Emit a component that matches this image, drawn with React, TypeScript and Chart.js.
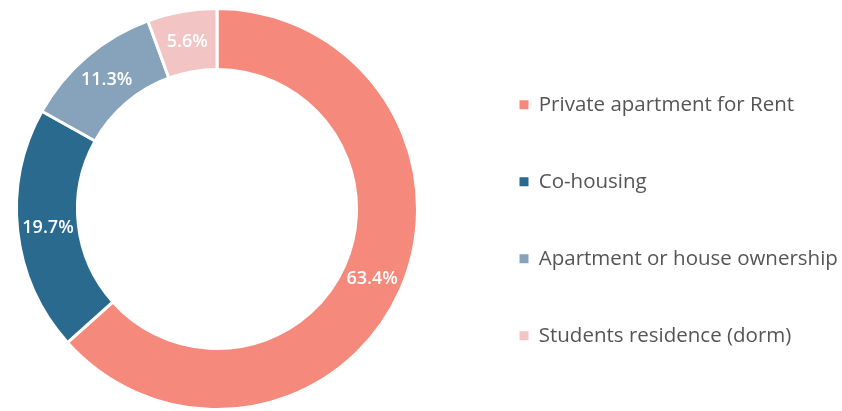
import React, { useEffect, useRef } from 'react';
import { Chart, registerables } from 'chart.js';

Chart.register(...registerables);

const categories = [
  'Private apartment for Rent',
  'Co-housing',
  'Apartment or house ownership',
  'Students residence (dorm)',
];
const shares = [63.4, 19.7, 11.3, 5.6];
const sliceColors = ['#F4897C', '#2B6A8F', '#86A3BB', '#F2C4C3'];

const FONT = '"Open Sans", "Noto Sans", sans-serif';

const valueLabels = {
  id: 'valueLabels',
  afterDatasetsDraw(chart: any) {
    const { ctx } = chart;
    const meta = chart.getDatasetMeta(0);
    const values = chart.data.datasets[0].data as number[];
    ctx.save();
    ctx.fillStyle = '#ffffff';
    ctx.font = `600 18px ${FONT}`;
    ctx.textAlign = 'center';
    ctx.textBaseline = 'middle';
    meta.data.forEach((arc: any, i: number) => {
      const p = arc.tooltipPosition(false);
      ctx.fillText(values[i].toFixed(1) + '%', p.x, p.y);
    });
    ctx.restore();
  },
};

const legendPlacer = {
  id: 'legendPlacer',
  beforeInit(chart: any) {
    const legend = chart.legend;
    if (!legend) return;
    const orig = legend.fit.bind(legend);
    legend.fit = function () {
      orig();
      this.width = 408;
    };
  },
  afterLayout(chart: any) {
    const l = chart.legend;
    if (!l) return;
    l.left = 463;
    l.right = 842;
    l.top = 38;
    l.bottom = 411;
  },
};

export default function App() {
  const ref = useRef<HTMLCanvasElement | null>(null);

  useEffect(() => {
    if (!ref.current) return;
    const chart = new Chart(ref.current, {
      type: 'doughnut',
      data: {
        labels: categories,
        datasets: [
          {
            data: shares,
            backgroundColor: sliceColors,
            borderColor: '#ffffff',
            borderWidth: 3,
            hoverBorderWidth: 3,
            hoverOffset: 0,
            offset: 0,
          },
        ],
      },
      options: {
        animation: false,
        responsive: true,
        maintainAspectRatio: false,
        cutout: '69.6%',
        events: [],
        layout: { padding: { top: 7, bottom: 0, left: 0, right: 0 } },
        plugins: {
          tooltip: { enabled: false },
          legend: {
            display: true,
            position: 'right',
            align: 'start',
            labels: {
              boxWidth: 9,
              boxHeight: 9,
              padding: 56.5,
              color: '#555555',
              font: { family: FONT, size: 20.5 },
              generateLabels(c: any) {
                const base = (Chart as any).overrides.doughnut.plugins.legend.labels.generateLabels(c);
                return base.map((it: any) => ({ ...it, lineWidth: 0 }));
              },
            },
          },
        },
      },
      plugins: [valueLabels, legendPlacer],
    } as any);
    return () => chart.destroy();
  }, []);

  return (
    <div style={{ position: 'fixed', left: 0, top: 0, width: 842, height: 411, background: '#ffffff' }}>
      <canvas ref={ref} />
    </div>
  );
}
